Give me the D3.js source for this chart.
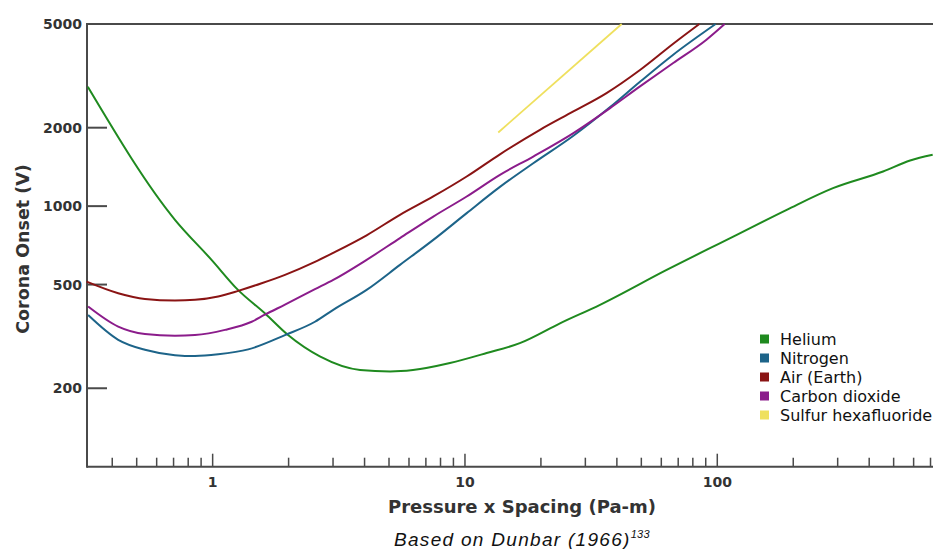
<!DOCTYPE html>
<html>
<head>
<meta charset="utf-8">
<script src="https://cdn.jsdelivr.net/npm/d3@7"></script>
<style>
  html, body { margin: 0; padding: 0; background: #fff; }
  svg { display: block; }
</style>
</head>
<body>
<svg id="chart" width="933" height="549"></svg>
<script>
// ---- data (pressure x spacing [Pa-m], corona onset [V]) ----
const seriesNames = ["Helium", "Nitrogen", "Air (Earth)", "Carbon dioxide", "Sulfur hexafluoride"];
const seriesColors = ["#1f8a1f", "#1d6489", "#8a1414", "#8b1c8b", "#efe05e"];

const heliumX = [0.32, 0.709, 0.99, 1.26, 1.61, 1.99, 2.66, 3.84, 5.05, 6.22, 8.72, 12.19, 16.5, 23.8, 34.3, 63, 115.7, 188.5, 287.5, 454, 581, 714];
const heliumY = [2870, 886, 622, 477, 388, 320, 265, 235, 232, 235, 250, 273, 298, 355, 418, 569, 764, 968, 1172, 1358, 1497, 1574];

const nitrogenX = [0.321, 0.4224, 0.539, 0.709, 0.851, 1.052, 1.384, 1.935, 2.544, 3.006, 4.076, 5.526, 7.49, 10.16, 13.76, 18.65, 26.9, 37.6, 49.4, 66.9, 98.5];
const nitrogenY = [382, 307, 281, 268, 266, 270, 282, 320, 360, 400, 477, 595, 742, 940, 1185, 1460, 1862, 2400, 3002, 3813, 5000];

const airX = [0.3166, 0.4224, 0.539, 0.709, 0.851, 1.052, 1.263, 1.564, 1.935, 2.544, 3.006, 4.076, 5.526, 7.49, 10.16, 13.76, 19.83, 26.9, 36.4, 49.4, 66.9, 84.9];
const airY = [513, 463, 440, 434, 437, 450, 473, 506, 545, 611, 662, 773, 926, 1089, 1299, 1581, 1963, 2308, 2716, 3330, 4200, 5000];

const co2X = [0.321, 0.4224, 0.539, 0.709, 0.851, 1.119, 1.428, 1.61, 1.935, 2.544, 3.006, 4.076, 5.526, 7.49, 10.16, 13.76, 18.65, 26.9, 37.6, 49.4, 66.9, 90.6, 107];
const co2Y = [412, 345, 323, 318, 320, 335, 360, 383, 419, 480, 521, 622, 754, 912, 1089, 1319, 1550, 1907, 2378, 2880, 3542, 4352, 5000];

const sf6X = [13.55, 41.8];
const sf6Y = [1917, 5000];

const yTickValues = [200, 500, 1000, 2000, 5000];
const xMajorTicks = [1, 10, 100];
const xMinorTicks = [0.4, 0.5, 0.6, 0.7, 0.8, 0.9, 2, 3, 4, 5, 6, 7, 8, 9, 20, 30, 40, 50, 60, 70, 80, 90, 200, 300, 400, 500, 600, 700, 800, 900];

const xTitle = "Pressure x Spacing (Pa-m)";
const yTitle = "Corona Onset (V)";
const captionText = "Based on Dunbar (1966)";
const captionSup = "133";

// ---- layout ----
const svg = d3.select("#chart");
const plotLeft = 87, plotTop = 24, plotBottom = 466.7;
const x = d3.scaleLog().domain([0.3177, 1000]).range([plotLeft, 969.6]);
const y = d3.scaleLog().domain([100, 5000]).range([plotBottom, plotTop]);

const axisColor = "#4a4a4a";
const textColor = "#333";
const font = "'DejaVu Sans', sans-serif";

// frame line on top
svg.append("line").attr("x1", plotLeft).attr("x2", 933).attr("y1", plotTop).attr("y2", plotTop)
  .attr("stroke", axisColor).attr("stroke-width", 2);

// x axis (ticks pointing up, inside)
const xAxisG = svg.append("g").attr("transform", `translate(0,${plotBottom})`);
xAxisG.append("line").attr("x1", plotLeft).attr("x2", 933).attr("stroke", axisColor).attr("stroke-width", 2);
xAxisG.selectAll("line.minor").data(xMinorTicks).join("line").attr("class", "minor")
  .attr("x1", d => x(d)).attr("x2", d => x(d)).attr("y1", 0).attr("y2", -9)
  .attr("stroke", axisColor).attr("stroke-width", 1.5);
xAxisG.selectAll("line.major").data(xMajorTicks).join("line").attr("class", "major")
  .attr("x1", d => x(d)).attr("x2", d => x(d)).attr("y1", 0).attr("y2", -13)
  .attr("stroke", axisColor).attr("stroke-width", 1.5);
xAxisG.selectAll("text").data(xMajorTicks).join("text")
  .attr("x", d => x(d)).attr("y", 20.5).attr("text-anchor", "middle")
  .attr("font-family", font).attr("font-size", 14).attr("font-weight", "bold").attr("fill", textColor)
  .text(d => d3.format("d")(d));

// y axis (ticks pointing right, inside)
const yAxisG = svg.append("g").attr("transform", `translate(${plotLeft},0)`);
yAxisG.append("line").attr("y1", plotTop - 1).attr("y2", plotBottom + 1).attr("stroke", axisColor).attr("stroke-width", 2);
yAxisG.selectAll("line.tk").data(yTickValues.filter(d => d < 5000)).join("line").attr("class", "tk")
  .attr("x1", 0).attr("x2", 20).attr("y1", d => y(d)).attr("y2", d => y(d))
  .attr("stroke", axisColor).attr("stroke-width", 2);
yAxisG.selectAll("text").data(yTickValues).join("text")
  .attr("x", -5).attr("y", d => y(d)).attr("dy", "0.36em").attr("text-anchor", "end")
  .attr("font-family", font).attr("font-size", 14).attr("font-weight", "bold").attr("fill", textColor)
  .text(d => d3.format("d")(d));

// titles
svg.append("text").attr("x", 522).attr("y", 512.5).attr("text-anchor", "middle")
  .attr("font-family", font).attr("font-size", 18).attr("font-weight", "bold").attr("fill", textColor).text(xTitle);
svg.append("text").attr("transform", "translate(29,249) rotate(-90)").attr("text-anchor", "middle")
  .attr("font-family", font).attr("font-size", 17.5).attr("font-weight", "bold").attr("fill", textColor).text(yTitle);

const cap = svg.append("text").attr("x", 522).attr("y", 546).attr("text-anchor", "middle")
  .attr("font-family", "'Liberation Sans', Arial, sans-serif").attr("font-style", "italic")
  .attr("font-size", 19).attr("letter-spacing", 1.3).attr("fill", "#111");
cap.append("tspan").text(captionText);
cap.append("tspan").attr("font-size", 11).attr("letter-spacing", 0.3).attr("dy", -8).text(captionSup);

// lines
const seriesData = [
  d3.zip(heliumX, heliumY),
  d3.zip(nitrogenX, nitrogenY),
  d3.zip(airX, airY),
  d3.zip(co2X, co2Y),
  d3.zip(sf6X, sf6Y)
];
const line = d3.line().x(d => x(d[0])).y(d => y(d[1])).curve(d3.curveMonotoneX);
const drawOrder = [4, 0, 2, 1, 3];
svg.append("g").selectAll("path").data(drawOrder).join("path")
  .attr("d", i => line(seriesData[i]))
  .attr("fill", "none").attr("stroke", i => seriesColors[i])
  .attr("stroke-width", i => i === 4 ? 1.8 : 2);

// legend
const lg = svg.append("g").attr("transform", "translate(760,339)");
const rows = lg.selectAll("g").data(seriesNames).join("g")
  .attr("transform", (d, i) => `translate(0,${i * 19})`);
rows.append("rect").attr("x", 0).attr("y", -4.5).attr("width", 9).attr("height", 9)
  .attr("fill", (d, i) => seriesColors[i]);
rows.append("text").attr("x", 20).attr("y", 0).attr("dy", "0.36em")
  .attr("font-family", font).attr("font-size", 16).attr("fill", "#111").text(d => d);
</script>
</body>
</html>
